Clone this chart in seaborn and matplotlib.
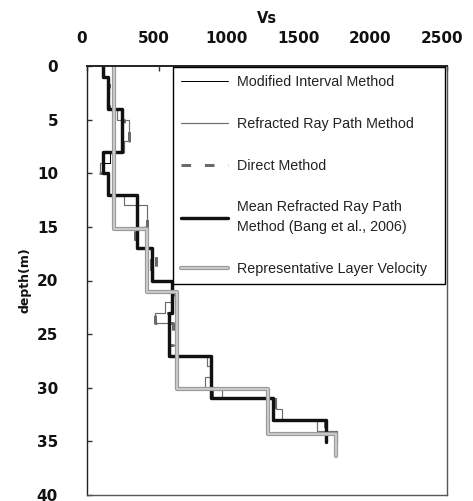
import matplotlib
matplotlib.use("Agg")
import matplotlib.pyplot as plt
import matplotlib.patheffects as pe
import matplotlib.transforms as mtransforms
import numpy as np
import pandas as pd
import seaborn as sns

# ---- data: shear-wave velocity profiles (Vs in m/s) vs depth (m) ----
meter_edges = [0, 1, 2, 3, 4, 5, 6, 7, 8, 9, 10, 11, 12, 13, 14, 15, 16, 17,
               18, 19, 20, 21, 22, 23, 24, 25, 26, 27, 28, 29, 30, 31, 32, 33,
               34, 35.1]

modified_interval = [110, 140, 150, 146, 245, 240, 235, 241, 160, 113, 150, 146,
                     340, 350, 345, 340, 338, 452, 449, 445, 590, 596, 590, 568,
                     570, 575, 570, 858, 865, 860, 861, 1290, 1300, 1655, 1665]

refracted_ray = [115, 145, 150, 140, 206, 289, 289, 259, 113, 90, 146, 146,
                 257, 420, 420, 345, 345, 450, 440, 455, 595, 600, 542, 472,
                 570, 570, 575, 831, 861, 820, 935, 1312, 1356, 1595, 1736]

direct = [113, 150, 146, 150, 240, 255, 289, 250, 110, 90, 146, 146,
          340, 350, 420, 333, 333, 477, 477, 477, 590, 595, 590, 472,
          597, 597, 570, 850, 860, 870, 870, 1300, 1300, 1650, 1660]

mean_edges = [0, 1, 4, 8, 10, 12, 17, 20, 23, 27, 31, 33, 35.1]
mean_refracted = [113, 146, 241, 113, 146, 345, 449, 593, 570, 861, 1294, 1660]

layer_edges = [0, 15.2, 21.1, 30.1, 34.3, 36.4]
layer_velocity = [185, 420, 627, 1255, 1730]

x_ticks = [0, 500, 1000, 1500, 2000, 2500]
y_ticks = [0, 5, 10, 15, 20, 25, 30, 35, 40]


def step_profile(edges, values):
    """Vertical step profile: each layer is a vertical segment at its velocity."""
    vs, depth = [], []
    for i, v in enumerate(values):
        vs += [v, v]
        depth += [edges[i], edges[i + 1]]
    return pd.DataFrame({"vs": vs, "depth": depth})


sns.set_style("white")
plt.rcParams["font.family"] = ["DejaVu Sans"]

fig = plt.figure(figsize=(4.73, 5.01), dpi=100)
ax = fig.add_axes([87 / 473, 1 - 495 / 501, 360 / 473, 429 / 501])

px = 72 / 100  # points per pixel

common = dict(x="vs", y="depth", sort=False, estimator=None, ax=ax)

sns.lineplot(data=step_profile(meter_edges, modified_interval), color="black",
             lw=1.0 * px, label="Modified Interval Method", **common)
sns.lineplot(data=step_profile(meter_edges, refracted_ray), color="#6e6e6e",
             lw=1.2 * px, label="Refracted Ray Path Method", **common)
sns.lineplot(data=step_profile(meter_edges, direct), color="#6a6a6a",
             lw=3.0 * px, linestyle=(0, (3.2, 4.6)),
             label="Direct Method", **common)
sns.lineplot(data=step_profile(mean_edges, mean_refracted), color="#111111",
             lw=3.4 * px, label="Mean Refracted Ray Path\nMethod (Bang et al., 2006)",
             **common)
sns.lineplot(data=step_profile(layer_edges, layer_velocity), color="#cfcfcf",
             lw=1.8 * px, label="Representative Layer Velocity",
             path_effects=[pe.Stroke(linewidth=4.2 * px, foreground="#9a9a9a"),
                           pe.Normal()],
             **common)

ax.set_xlim(0, 2500)
ax.set_ylim(40, 0)
ax.set_xticks(x_ticks)
ax.set_yticks(y_ticks)
ax.xaxis.tick_top()
ax.xaxis.set_label_position("top")
ax.tick_params(axis="both", direction="in", length=5 * px, width=1,
               color="#333333", labelsize=11, labelcolor="#111111")
ax.tick_params(axis="x", pad=20 * px, top=True, bottom=False)
ax.tick_params(axis="y", pad=29 * px, left=True, right=False)
for lab in ax.get_xticklabels() + ax.get_yticklabels():
    lab.set_fontweight("bold")

# x tick labels sit slightly left of their ticks
shift = mtransforms.ScaledTranslation(-5 / 100, 0, fig.dpi_scale_trans)
for lab in ax.get_xticklabels():
    lab.set_transform(lab.get_transform() + shift)

ax.set_xlabel("Vs", fontsize=10.5, fontweight="bold", labelpad=8 * px,
              color="#111111")
ax.set_ylabel("depth(m)", fontsize=9, fontweight="bold", labelpad=5 * px,
              color="#111111")

for side, sp in ax.spines.items():
    sp.set_visible(True)
    sp.set_color("#222222" if side in ("top", "left") else "#555555")
    sp.set_linewidth(1.4 if side == "top" else 1.0)

leg = ax.legend(loc="upper left", bbox_to_anchor=(0.239, 0.5, 0.755, 0.498),
                mode="expand", borderaxespad=0, frameon=True, fancybox=False,
                framealpha=1, edgecolor="black", handlelength=3.3,
                handletextpad=0.6, borderpad=0.55, labelspacing=1.95,
                prop={"family": ["Liberation Sans", "DejaVu Sans"],
                      "size": 10.3})
leg.get_frame().set_linewidth(1.0)
for t in leg.get_texts():
    t.set_color("#222222")
    t.set_linespacing(1.5)

fig.savefig("out.png", dpi=100)
